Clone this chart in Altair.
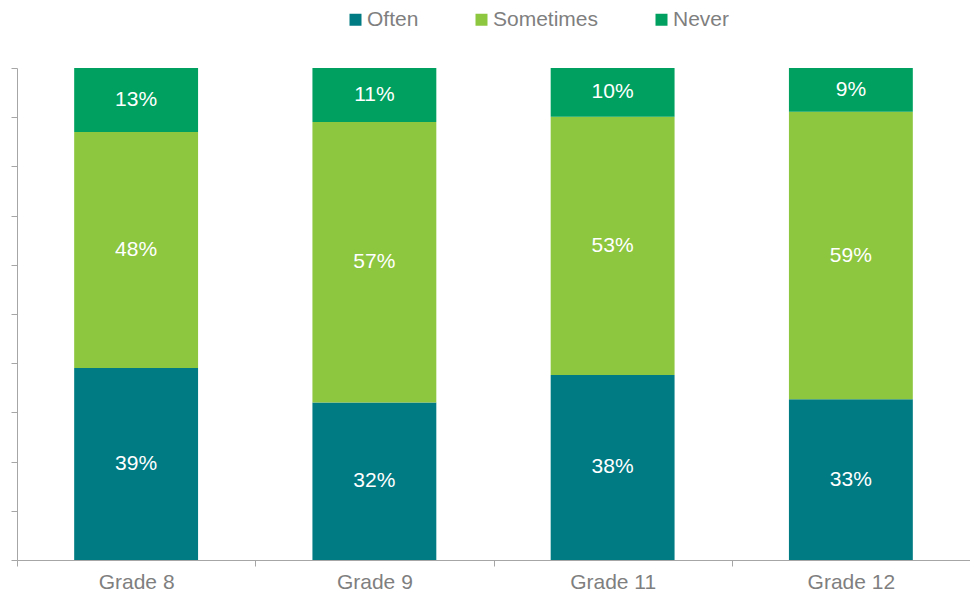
import altair as alt
import pandas as pd

grades = ["Grade 8", "Grade 9", "Grade 11", "Grade 12"]
categories = ["Often", "Sometimes", "Never"]
often = [39, 32, 38, 33]
sometimes = [48, 57, 53, 59]
never = [13, 11, 10, 9]
colors = ["#007A83", "#8DC63F", "#00A160"]

rows = []
for i, g in enumerate(grades):
    for j, (cat, vals) in enumerate(zip(categories, [often, sometimes, never])):
        rows.append({"grade": g, "cat": cat, "order": j, "value": vals[i]})
df = pd.DataFrame(rows)

FONT = "Liberation Sans"
GRAY = "#7F7F7F"
LINE = "#A6A6A6"

base = alt.Chart(df).transform_stack(
    stack="value", groupby=["grade"], as_=["y0", "y1"],
    offset="normalize", sort=[alt.SortField("order", order="ascending")]
).transform_calculate(
    mid="(datum.y0 + datum.y1) / 2",
    label="datum.value + '%'"
)

xenc = alt.X("grade:N", sort=grades, title=None,
             scale=alt.Scale(paddingInner=0, paddingOuter=0),
             axis=alt.Axis(labelAngle=0, tickBand="extent", labelFont=FONT,
                           labelFontSize=21, labelColor=GRAY, labelPadding=5,
                           domainColor=LINE, tickColor=LINE, tickSize=6))

bars = base.mark_bar(width={"band": 0.52}).encode(
    x=xenc,
    y=alt.Y("y0:Q", title=None,
            scale=alt.Scale(domain=[0, 1], nice=False),
            axis=alt.Axis(values=[i / 10 for i in range(11)], labels=False,
                          grid=False, domainColor=LINE, tickColor=LINE,
                          tickSize=6)),
    y2="y1:Q",
    color=alt.Color("cat:N", sort=categories, title=None,
                    scale=alt.Scale(domain=categories, range=colors),
                    legend=alt.Legend(orient="none", direction="horizontal",
                                      legendX=328, legendY=-59,
                                      symbolType="square", symbolSize=144,
                                      symbolStrokeWidth=0, symbolOpacity=1,
                                      labelFont=FONT, labelFontSize=21,
                                      labelColor=GRAY, labelOffset=1,
                                      columnPadding=52, labelLimit=300)),
)

texts = base.mark_text(font=FONT, fontSize=21, color="white").encode(
    x=alt.X("grade:N", sort=grades),
    y=alt.Y("mid:Q"),
    text="label:N",
)

chart = (bars + texts).properties(
    width=953, height=492,
    autosize=alt.AutoSizeParams(type="none"),
    padding={"left": 9, "top": 60, "right": 0, "bottom": 32},
).configure_view(stroke=None).configure_axis(grid=False)

chart.save("out.html", embed_options={"renderer": "svg", "actions": False})
